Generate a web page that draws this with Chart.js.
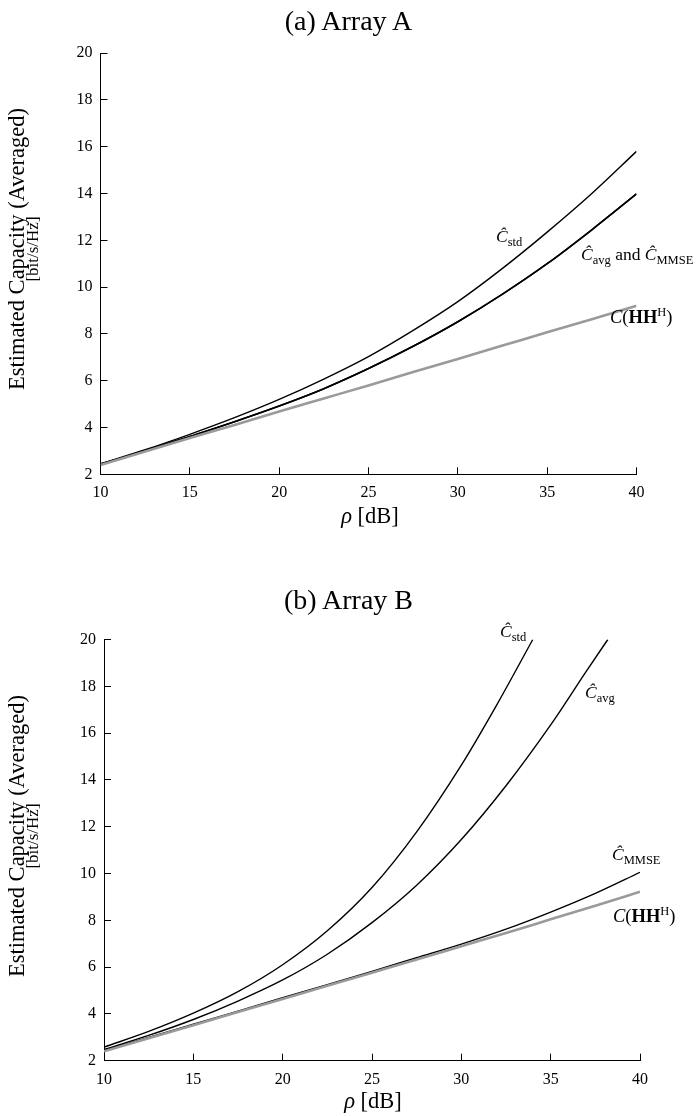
<!DOCTYPE html>
<html>
<head>
<meta charset="utf-8">
<script src="https://cdn.jsdelivr.net/npm/chart.js@4.4.0/dist/chart.umd.min.js"></script>
<style>
  html, body { margin:0; padding:0; background:#fff; }
  body { width:697px; height:1116px; position:relative; overflow:hidden; font-family:"Liberation Serif", "DejaVu Serif", serif; color:#000; }
  .cv { position:absolute; left:0; }
  .t { position:absolute; white-space:nowrap; line-height:1; }
  .title { font-size:28px; width:697px; left:0; text-align:center; }
  .ytitle { font-size:22.5px; transform:translate(-50%,-50%) rotate(-90deg); }
  .ysub { font-size:17px; transform:translate(-50%,-50%) rotate(-90deg); }
  .xtitle { font-size:22.5px; transform:translate(-50%,-50%); }
  .lab { font-size:17.5px; }
  .lab i { font-style:italic; }
  .lab .s { font-size:12.5px; position:relative; top:4px; }
  .lab .p { font-size:12.5px; position:relative; top:-7px; }
  .lab b { font-weight:bold; }
  .hh { font-size:18.5px; }
</style>
</head>
<body>
<canvas id="ca" class="cv" width="697" height="558" style="top:0"></canvas>
<canvas id="cb" class="cv" width="697" height="558" style="top:558px"></canvas>

<div class="t title" style="top:7px">(a) Array A</div>
<div class="t title" style="top:586px">(b) Array B</div>

<div class="t ytitle" style="left:17px; top:249px">Estimated Capacity (Averaged)</div>
<div class="t ysub" style="left:32px; top:249px">[bit/s/Hz]</div>
<div class="t ytitle" style="left:17px; top:836px">Estimated Capacity (Averaged)</div>
<div class="t ysub" style="left:32px; top:836px">[bit/s/Hz]</div>

<div class="t xtitle" style="left:370px; top:516px"><i>ρ</i> [dB]</div>
<div class="t xtitle" style="left:373px; top:1101px"><i>ρ</i> [dB]</div>

<div class="t lab" style="left:496px; top:228px"><i>Ĉ</i><span class="s">std</span></div>
<div class="t lab" style="left:581px; top:246px"><i>Ĉ</i><span class="s">avg</span> and <i>Ĉ</i><span class="s">MMSE</span></div>
<div class="t lab hh" style="left:610px; top:308px"><i>C</i>(<b>HH</b><span class="p">H</span>)</div>

<div class="t lab" style="left:500px; top:623px"><i>Ĉ</i><span class="s">std</span></div>
<div class="t lab" style="left:585px; top:684px"><i>Ĉ</i><span class="s">avg</span></div>
<div class="t lab" style="left:612px; top:846px"><i>Ĉ</i><span class="s">MMSE</span></div>
<div class="t lab hh" style="left:613px; top:907px"><i>C</i>(<b>HH</b><span class="p">H</span>)</div>

<script>
// ---- data ----
const rho = [10, 12.5, 15, 17.5, 20, 22.5, 25, 27.5, 30, 32.5, 35, 37.5, 40];
const xTicks = [10, 15, 20, 25, 30, 35, 40];
const yTicks = [2, 4, 6, 8, 10, 12, 14, 16, 18, 20];

// (a) Array A
const cStdA  = [2.45, 3.05, 3.71, 4.42, 5.20, 6.07, 7.03, 8.15, 9.38, 10.80, 12.35, 14.00, 15.80];
const cAvgA  = [2.43, 3.00, 3.62, 4.25, 4.92, 5.66, 6.52, 7.47, 8.52, 9.70, 11.00, 12.45, 13.98];
const cMmseA = [2.43, 3.00, 3.62, 4.25, 4.92, 5.66, 6.52, 7.47, 8.52, 9.70, 11.00, 12.45, 13.98];
const cHHA   = [2.40, 2.97, 3.55, 4.11, 4.68, 5.24, 5.80, 6.37, 6.93, 7.50, 8.07, 8.63, 9.20];

// (b) Array B
const rhoStdB = [10, 12.5, 15, 17.5, 20, 22.5, 25, 27.5, 30, 32, 34.0];
const cStdB   = [2.58, 3.25, 4.03, 4.95, 6.10, 7.55, 9.40, 11.78, 14.63, 17.23, 20.0];
const rhoAvgB = [10, 12.5, 15, 17.5, 20, 22.5, 25, 27.5, 30, 32.5, 35, 37, 38.2];
const cAvgB   = [2.48, 3.08, 3.76, 4.55, 5.45, 6.55, 7.90, 9.50, 11.45, 13.75, 16.35, 18.65, 20.0];
const cMmseB  = [2.45, 3.00, 3.56, 4.12, 4.69, 5.25, 5.82, 6.40, 6.98, 7.62, 8.35, 9.15, 10.05];
const cHHB    = [2.40, 2.96, 3.52, 4.08, 4.64, 5.20, 5.76, 6.32, 6.89, 7.46, 8.04, 8.62, 9.22];

// ---- helpers ----
const pts = (xs, ys) => xs.map((x, i) => ({x: x, y: ys[i]}));
const BLACK = '#000000', GRAY = '#9a9a9a';
function line(data, color, width) {
  return { data: data, borderColor: color, borderWidth: width, pointRadius: 0,
           fill: false, cubicInterpolationMode: 'monotone', borderCapStyle: 'butt' };
}

function makeChart(id, datasets, area) {
  const H = 558;
  return new Chart(document.getElementById(id), {
    type: 'line',
    data: { datasets: datasets },
    options: {
      responsive: false, maintainAspectRatio: false, animation: false,
      devicePixelRatio: 1,
      layout: { padding: { left: 0, top: area.top, right: 697 - area.right, bottom: 0 } },
      plugins: { legend: { display: false }, tooltip: { enabled: false }, title: { display: false } },
      scales: {
        x: {
          type: 'linear', min: 10, max: 40,
          afterBuildTicks: s => { s.ticks = xTicks.map(v => ({ value: v })); },
          ticks: { color: BLACK, padding: 16, maxRotation: 0, autoSkip: false,
                   font: { family: 'Liberation Serif', size: 16 } },
          grid: { drawOnChartArea: false, drawTicks: true, tickLength: -7, color: BLACK, lineWidth: 1 },
          border: { display: true, color: BLACK, width: 1 },
          afterFit: s => { s.height = H - area.bottom; }
        },
        y: {
          type: 'linear', min: 2, max: 20,
          afterBuildTicks: s => { s.ticks = yTicks.map(v => ({ value: v })); },
          ticks: { color: BLACK, padding: 15, autoSkip: false,
                   font: { family: 'Liberation Serif', size: 16 } },
          grid: { drawOnChartArea: false, drawTicks: true, tickLength: -7, color: BLACK, lineWidth: 1 },
          border: { display: true, color: BLACK, width: 1 },
          afterFit: s => { s.width = area.left; }
        }
      }
    }
  });
}

makeChart('ca', [
  line(pts(rho, cHHA), GRAY, 2.6),
  line(pts(rho, cMmseA), BLACK, 1.6),
  line(pts(rho, cAvgA), BLACK, 1.6),
  line(pts(rho, cStdA), BLACK, 1.4)
], { left: 100.5, right: 636.5, top: 53.1, bottom: 474.3 });

makeChart('cb', [
  line(pts(rho, cHHB), GRAY, 2.6),
  line(pts(rho, cMmseB), BLACK, 1.4),
  line(pts(rhoAvgB, cAvgB), BLACK, 1.4),
  line(pts(rhoStdB, cStdB), BLACK, 1.4)
], { left: 104, right: 640, top: 81.5, bottom: 502.7 });
</script>
</body>
</html>
